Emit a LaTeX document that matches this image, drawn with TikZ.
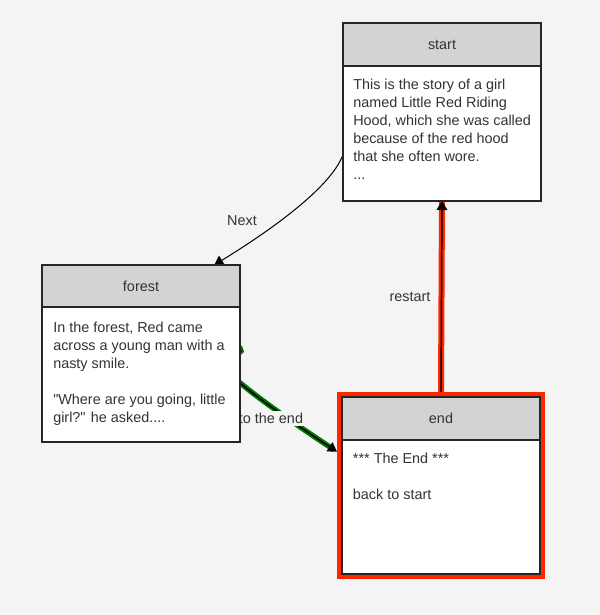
\documentclass[tikz,border=0pt]{standalone}
\usepackage{fontspec}
\setmainfont{Liberation Sans}
\usetikzlibrary{arrows.meta,backgrounds}

\begin{document}
\begin{tikzpicture}[x=0.75pt,y=0.75pt,yscale=-1,xscale=1,
  font=\fontsize{10.8pt}{13.5pt}\selectfont,
  every node/.style={text={rgb, 255:red, 51; green, 51; blue, 51 }},
  head/.style={draw={rgb, 255:red, 38; green, 38; blue, 38 }, line width=1pt, fill={rgb, 255:red, 211; green, 211; blue, 211 }, minimum width=148.5pt, inner sep=0pt, outer sep=0pt},
  card/.style={draw={rgb, 255:red, 38; green, 38; blue, 38 }, line width=1pt, fill=white, minimum width=148.5pt, inner sep=0pt, outer sep=0pt},
  story/.style={anchor=north west, inner sep=0pt, align=left},
  hlred/.style={draw={rgb, 255:red, 255; green, 38; blue, 0 }},
  hlgreen/.style={draw={rgb, 255:red, 0; green, 120; blue, 0 }},
  canvas/.style={fill={rgb, 255:red, 244; green, 244; blue, 244 }},
  tip/.style={-{Triangle[length=6.75pt,width=8pt]}}
]
%uncomment if require: \path (0,615); %set diagram left start at 0, and has height of 615
\useasboundingbox (0,0) rectangle (600,615);

%Shape: Rectangle [start]
\draw (442,44.5) node [head, minimum height=32.25pt] (start-head) {start};
\draw (442,133.5) node [card, minimum height=101.25pt] (start-body) {};
% Text Node
\draw (353,78.7) node [story] (start-text) {This is the story of a girl\\named Little Red Riding\\Hood, which she was called\\because of the red hood\\that she often wore.\\...};

%Shape: Rectangle [forest]
\draw (141,286) node [head, minimum height=31.5pt] (forest-head) {forest};
\draw (141,374.5) node [card, minimum height=101.25pt] (forest-body) {};
% Text Node
\draw (53,321.5) node [story] (forest-text) {In the forest, Red came\\across a young man with a\\nasty smile.\\[13.5pt]\textquotedbl Where are you going, little\\girl?\textquotedbl{} he asked....};

%Shape: Rectangle [end]
\draw (441,485.5) node [hlred, line width=3.75pt, minimum width=152.25pt, minimum height=136.5pt] (end-frame) {};
\draw (441,418.5) node [head, minimum height=32.25pt] (end-head) {end};
\draw (441,507) node [card, minimum height=100.5pt] (end-body) {};
% Text Node
\draw (352.7,452.5) node [story] (end-text) {*** The End ***\\[13.5pt]back to start};

\begin{scope}[on background layer]
\path [canvas] (0,0) rectangle (600,615);

%Curve Lines [Next]
\draw [tip, line width=0.75pt] (start-body.192) .. controls (331,188) and (268,232) .. (forest-head.16.5);

%Straight Lines [restart]
\draw [hlred, line width=4.5pt] (end-frame.north) -- (start-body.south);
\draw [tip, line width=1.1pt] (end-frame.north) -- (start-body.south);

%Curve Lines [to the end]
\coordinate (forest-out) at (236,344);
\draw [hlgreen, line width=4pt, shorten >=3pt] (forest-out) .. controls (268,372) and (130,315) .. (end-frame.162);
\draw [tip, line width=1.1pt] (forest-out) .. controls (268,372) and (130,315) .. (end-frame.162);

% Text Node
\draw (271,418.5) node [canvas, inner sep=1.5pt] (toend-lbl) {to the end};
\end{scope}

% Text Node
\draw (242,220.5) node (next-lbl) {Next};
% Text Node
\draw (410,297) node (restart-lbl) {restart};

\end{tikzpicture}
\end{document}
